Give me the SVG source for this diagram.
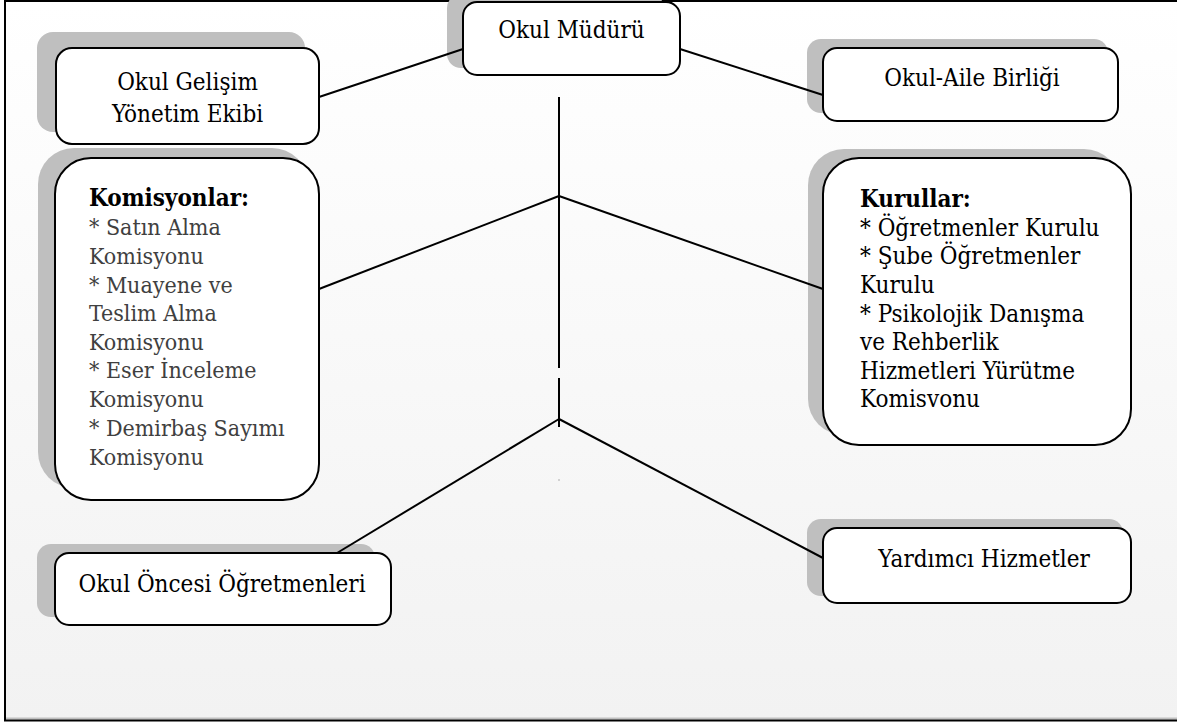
<svg xmlns="http://www.w3.org/2000/svg" width="1177" height="723" viewBox="0 0 1177 723">
<defs>
<linearGradient id="bg" x1="0" y1="0" x2="0" y2="1">
<stop offset="0" stop-color="#ffffff"/>
<stop offset="1" stop-color="#f2f2f2"/>
</linearGradient>
<style>
.box{fill:#ffffff;stroke:#000000;stroke-width:2}
.sh{fill:#bfbfbf;stroke:none}
.t{font-family:'DejaVu Serif Condensed','DejaVu Serif','Liberation Serif',serif;font-stretch:condensed;font-size:24px;fill:#000000}
.c{text-anchor:middle}
.g{fill:#404040;font-size:23px}
.b{font-weight:bold;fill:#000000}
.ln{stroke:#000000;stroke-width:2;fill:none}
</style>
</defs>
<rect x="5" y="1" width="1180" height="719" fill="url(#bg)"/>
<line x1="5" y1="718.5" x2="1177" y2="718.5" stroke="#bfbfbf" stroke-width="2"/>
<rect x="5" y="1" width="1180" height="719.5" fill="none" stroke="#000000" stroke-width="2"/>

<g id="okul-muduru">
<rect class="sh" x="447" y="-6" width="217" height="74" rx="14"/>
<rect class="box" x="463" y="2" width="217" height="73" rx="14"/>
<text class="t c" x="571.5" y="38">Okul Müdürü</text>
</g>

<g id="okul-gelisim">
<rect class="sh" x="37" y="32" width="268" height="100" rx="16"/>
<rect class="box" x="56" y="48" width="263" height="96" rx="16"/>
<text class="t c" x="187.5" y="90">Okul Gelişim</text>
<text class="t c" x="187.5" y="122">Yönetim Ekibi</text>
</g>

<g id="okul-aile">
<rect class="sh" x="807" y="39" width="301" height="74" rx="14"/>
<rect class="box" x="823" y="48" width="295" height="73" rx="14"/>
<text class="t c" x="972" y="86">Okul-Aile Birliği</text>
</g>

<g id="komisyonlar">
<rect class="sh" x="38" y="148" width="270" height="340" rx="36"/>
<rect class="box" x="55" y="158" width="264" height="342" rx="36"/>
<text class="t b" x="89" y="206">Komisyonlar:</text>
<text class="t g" x="89" y="235">* Satın Alma</text>
<text class="t g" x="89" y="264">Komisyonu</text>
<text class="t g" x="89" y="293">* Muayene ve</text>
<text class="t g" x="89" y="321">Teslim Alma</text>
<text class="t g" x="89" y="350">Komisyonu</text>
<text class="t g" x="89" y="378">* Eser İnceleme</text>
<text class="t g" x="89" y="407">Komisyonu</text>
<text class="t g" x="89" y="436">* Demirbaş Sayımı</text>
<text class="t g" x="89" y="465">Komisyonu</text>
</g>

<g id="kurullar">
<rect class="sh" x="808" y="149" width="312" height="286" rx="36"/>
<rect class="box" x="823" y="158" width="308" height="287" rx="36"/>
<text class="t b" x="860" y="207">Kurullar:</text>
<text class="t" x="860" y="236">* Öğretmenler Kurulu</text>
<text class="t" x="860" y="264">* Şube Öğretmenler</text>
<text class="t" x="860" y="293">Kurulu</text>
<text class="t" x="860" y="322">* Psikolojik Danışma</text>
<text class="t" x="860" y="350">ve Rehberlik</text>
<text class="t" x="860" y="379">Hizmetleri Yürütme</text>
<text class="t" x="860" y="407">Komisvonu</text>
</g>

<g id="okul-oncesi">
<rect class="sh" x="37" y="544" width="338" height="73" rx="14"/>
<rect class="box" x="55" y="553" width="336" height="72" rx="14"/>
<text class="t c" x="222" y="592">Okul Öncesi Öğretmenleri</text>
</g>

<g id="yardimci">
<rect class="sh" x="807" y="519" width="316" height="77" rx="14"/>
<rect class="box" x="823" y="528" width="308" height="75" rx="14"/>
<text class="t c" x="984" y="567">Yardımcı Hizmetler</text>
</g>

<g id="connectors">
<line class="ln" x1="319" y1="97" x2="463" y2="49"/>
<line class="ln" x1="680" y1="49" x2="823" y2="95"/>
<line class="ln" x1="559" y1="97" x2="559" y2="368"/>
<line class="ln" x1="559" y1="378" x2="559" y2="427"/>
<line class="ln" x1="559" y1="196" x2="319" y2="289"/>
<line class="ln" x1="559" y1="196" x2="823" y2="289"/>
<line class="ln" x1="559" y1="419" x2="337" y2="553"/>
<line class="ln" x1="559" y1="419" x2="823" y2="558"/>
<rect x="558.5" y="479.5" width="1" height="1" fill="#666666"/>
</g>
</svg>
